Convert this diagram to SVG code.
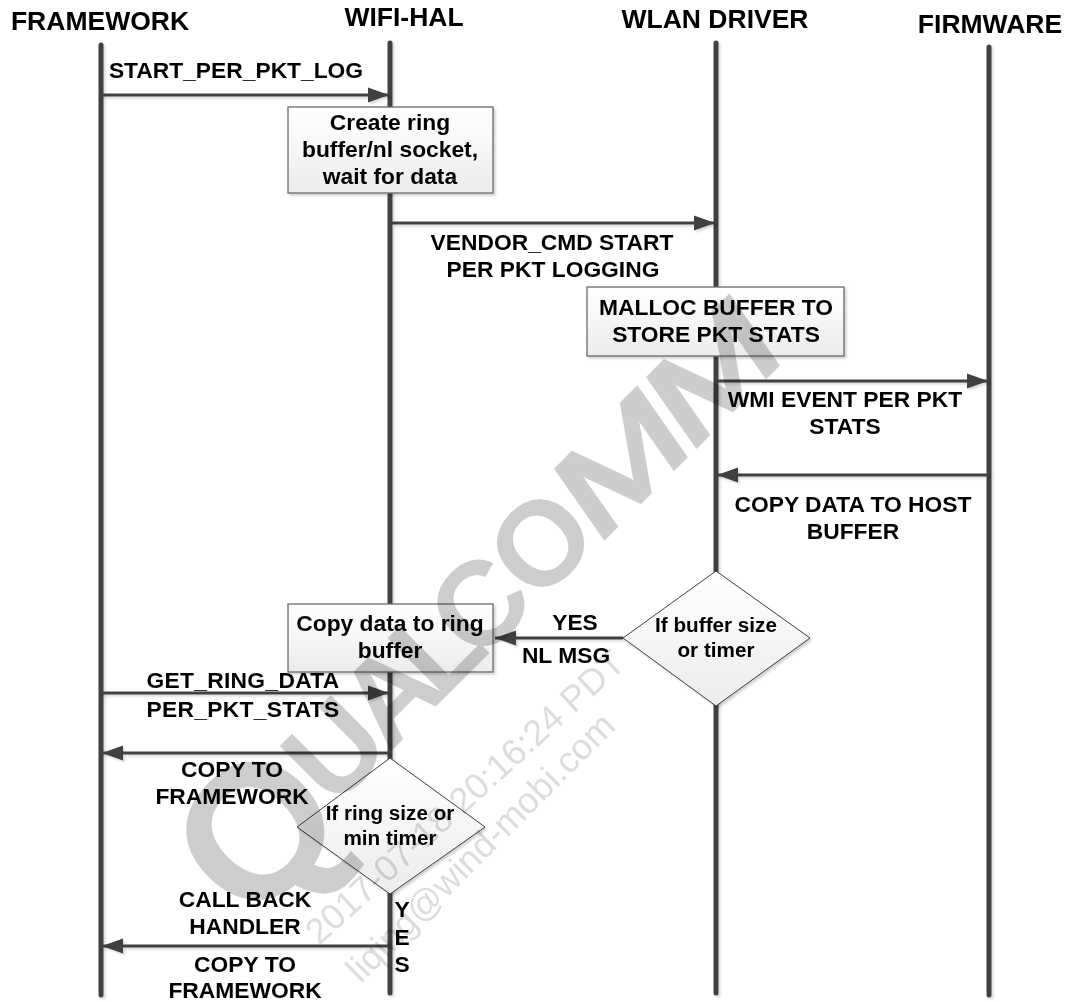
<svg xmlns="http://www.w3.org/2000/svg" width="1070" height="1002" viewBox="0 0 1070 1002">
<style>
text{font-family:"Liberation Sans",Arial,sans-serif;font-weight:bold;fill:#000;text-anchor:middle}
.t{font-size:26.5px}
.l{font-size:22.8px}
.d{font-size:20.7px}
.life{stroke:#404040;stroke-width:5;stroke-linecap:round;fill:none;filter:url(#sh)}
.msg{stroke:#404040;stroke-width:3;fill:none;filter:url(#sh)}
.box{fill:url(#g);stroke:#6a6a6a;stroke-width:1.3;filter:url(#sh2)}
.dia{fill:url(#g);stroke:#404040;stroke-width:1;filter:url(#sh2)}
#watermark{mix-blend-mode:multiply}
.wm{fill:#cdcdcd;font-size:120px}
.wm.q{font-size:190px}
.wm.m{font-weight:normal;stroke:#cdcdcd;stroke-width:4}
.ws{fill:#dcdcdc;font-size:36px;font-weight:normal}
</style>
<defs>
<linearGradient id="g" x1="0" y1="0" x2="0" y2="1"><stop offset="0" stop-color="#ffffff"/><stop offset="1" stop-color="#ececec"/></linearGradient>
<filter id="sh" filterUnits="userSpaceOnUse" x="0" y="0" width="1070" height="1002"><feDropShadow dx="2" dy="2" stdDeviation="1" flood-color="#000" flood-opacity=".15"/></filter>
<filter id="sh2" x="-10%" y="-10%" width="120%" height="120%"><feDropShadow dx="2" dy="2" stdDeviation="1" flood-color="#000" flood-opacity=".18"/></filter>
<marker id="a" markerUnits="userSpaceOnUse" markerWidth="22" markerHeight="16" refX="21" refY="8" orient="auto"><path d="M0 0.5L21 8L0 15.5Z" fill="#404040"/></marker>
</defs>
<g id="connectors">
<path class="life" d="M101 45V995"/>
<path class="life" d="M390 43V993"/>
<path class="life" d="M716 43V993"/>
<path class="life" d="M989 47V995"/>
<path class="msg" d="M101 95H389" marker-end="url(#a)"/>
<path class="msg" d="M392 223H715" marker-end="url(#a)"/>
<path class="msg" d="M717 381H988" marker-end="url(#a)"/>
<path class="msg" d="M989 475H717" marker-end="url(#a)"/>
<path class="msg" d="M623 638H495" marker-end="url(#a)"/>
<path class="msg" d="M101 693H389" marker-end="url(#a)"/>
<path class="msg" d="M390 753H102" marker-end="url(#a)"/>
<path class="msg" d="M390 946H102" marker-end="url(#a)"/>
</g>
<g id="n-framework"><text class="t" x="100" y="30">FRAMEWORK</text></g>
<g id="n-wifihal"><text class="t" x="404" y="26">WIFI-HAL</text></g>
<g id="n-wlan"><text class="t" x="715" y="28">WLAN DRIVER</text></g>
<g id="n-firmware"><text class="t" x="990" y="33">FIRMWARE</text></g>
<g id="n-create"><rect class="box" x="288" y="107" width="205" height="86"/><text class="l" x="390" y="130">Create ring</text><text class="l" x="390" y="157">buffer/nl socket,</text><text class="l" x="390" y="184">wait for data</text></g>
<g id="n-malloc"><rect class="box" x="587" y="287" width="257" height="69"/><text class="l" x="716" y="315">MALLOC BUFFER TO</text><text class="l" x="716" y="342">STORE PKT STATS</text></g>
<g id="n-copyring"><rect class="box" x="288" y="604" width="205" height="68"/><text class="l" x="390" y="631">Copy data to ring</text><text class="l" x="390" y="658">buffer</text></g>
<g id="n-bufdec"><path class="dia" d="M716 571L810 638L716 706L623 638Z"/><text class="d" x="716" y="632">If buffer size</text><text class="d" x="716" y="657">or timer</text></g>
<g id="n-ringdec"><path class="dia" d="M390 758L485 827L390 894L297 827Z"/><text class="d" x="390" y="820">If ring size or</text><text class="d" x="390" y="845">min timer</text></g>
<g id="labels">
<text class="l" x="236" y="78">START_PER_PKT_LOG</text>
<text class="l" x="552" y="250">VENDOR_CMD START</text>
<text class="l" x="553" y="277">PER PKT LOGGING</text>
<text class="l" x="845" y="407">WMI EVENT PER PKT</text>
<text class="l" x="845" y="434">STATS</text>
<text class="l" x="853" y="512">COPY DATA TO HOST</text>
<text class="l" x="853" y="539">BUFFER</text>
<text class="l" x="575" y="630">YES</text>
<text class="l" x="566" y="663">NL MSG</text>
<text class="l" x="243" y="688" style="letter-spacing:.3px">GET_RING_DATA</text>
<text class="l" x="243" y="717" style="letter-spacing:.3px">PER_PKT_STATS</text>
<text class="l" x="232" y="777">COPY TO</text>
<text class="l" x="232" y="804">FRAMEWORK</text>
<text class="l" x="245" y="907">CALL BACK</text>
<text class="l" x="245" y="934">HANDLER</text>
<text class="l" x="245" y="972">COPY TO</text>
<text class="l" x="245" y="998">FRAMEWORK</text>
<text class="l" x="402" y="917">Y</text>
<text class="l" x="402" y="945">E</text>
<text class="l" x="402" y="972">S</text>
</g>
<g id="watermark">
<g transform="translate(254,829) rotate(-45)">
<text class="wm q" x="0" y="68">Q</text>
<text class="wm" x="113" y="42">U</text>
<text class="wm" x="192" y="42">A</text>
<text class="wm" x="258" y="42">L</text>
<text class="wm" x="318" y="42">C</text>
<text class="wm" x="405" y="42">O</text>
<text class="wm m" transform="translate(511,42) skewX(-10) scale(1.4,1)">M</text>
<text class="wm m" transform="translate(641,42) skewX(-10) scale(1.4,1)">M</text>
</g>
<text class="ws" transform="translate(473,806) rotate(-42.3)">2017-07-18 20:16:24 PDT</text>
<text class="ws" transform="translate(489,856) rotate(-45)">liqing@wind-mobi.com</text>
</g>
</svg>
